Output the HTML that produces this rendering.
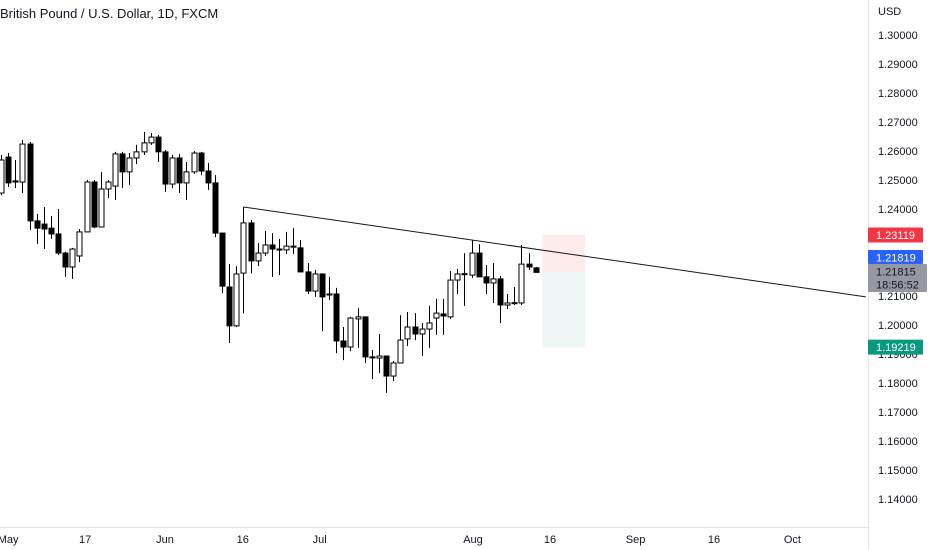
<!DOCTYPE html>
<html><head><meta charset="utf-8"><style>
html,body{margin:0;padding:0;background:#fff;}
svg{display:block;font-family:"Liberation Sans",sans-serif;}
</style></head><body>
<svg id="chart" width="932" height="550" viewBox="0 0 932 550" xmlns="http://www.w3.org/2000/svg">
<rect x="0" y="0" width="932" height="550" fill="#ffffff"/>
<g id="marks"></g>
<line x1="868.5" y1="0" x2="868.5" y2="550" stroke="#e0e3eb"/>
<line x1="0" y1="527.5" x2="868" y2="527.5" stroke="#e0e3eb"/>
<g id="yaxis"></g>
<g id="xaxis"></g>
<text x="0" y="18" font-size="13" fill="#131722">British Pound / U.S. Dollar, 1D, FXCM</text>
<text x="878" y="15" font-size="11" fill="#131722">USD</text>
</svg>
<script>
const opens=[1.2455,1.2579,1.2497,1.2493,1.2624,1.2359,1.2348,1.2334,1.2314,1.2248,1.2200,1.2238,1.2321,1.2493,1.2338,1.2469,1.2479,1.2590,1.2528,1.2576,1.2597,1.2628,1.2648,1.2597,1.2486,1.2576,1.2490,1.2528,1.2593,1.2531,1.2490,1.2317,1.2131,1.1997,1.2179,1.2352,1.2221,1.2248,1.2276,1.2262,1.2259,1.2272,1.2266,1.2183,1.2117,1.2176,1.2107,1.2107,1.1945,1.1924,1.2021,1.2028,1.1890,1.1886,1.1893,1.1824,1.1869,1.1952,1.1993,1.1969,1.1986,1.2024,1.2038,1.2028,1.2155,1.2176,1.2172,1.2248,1.2166,1.2145,1.2159,1.2069,1.2076,1.2076,1.2210,1.2197];
const highs=[1.2586,1.2593,1.2569,1.2638,1.2631,1.2383,1.2407,1.2376,1.2400,1.2252,1.2266,1.2331,1.2500,1.2500,1.2528,1.2500,1.2597,1.2597,1.2593,1.2621,1.2666,1.2662,1.2655,1.2603,1.2586,1.2590,1.2562,1.2600,1.2597,1.2559,1.2517,1.2317,1.2210,1.2203,1.2407,1.2362,1.2283,1.2324,1.2317,1.2297,1.2321,1.2334,1.2293,1.2214,1.2190,1.2176,1.2166,1.2128,1.1993,1.2028,1.2059,1.2028,1.1914,1.1969,1.1893,1.1876,1.2034,1.2045,1.2041,1.2007,1.2066,1.2090,1.2090,1.2186,1.2193,1.2248,1.2293,1.2279,1.2207,1.2214,1.2169,1.2107,1.2131,1.2276,1.2248,1.2200];
const lows=[1.2448,1.2476,1.2472,1.2455,1.2328,1.2279,1.2262,1.2297,1.2241,1.2166,1.2159,1.2217,1.2321,1.2334,1.2338,1.2438,1.2431,1.2472,1.2483,1.2555,1.2586,1.2621,1.2562,1.2459,1.2472,1.2455,1.2431,1.2521,1.2517,1.2466,1.2303,1.2110,1.1938,1.1993,1.2041,1.2179,1.2203,1.2238,1.2166,1.2172,1.2245,1.2245,1.2183,1.2107,1.2097,1.1979,1.2086,1.1903,1.1879,1.1910,1.1921,1.1869,1.1814,1.1834,1.1766,1.1807,1.1869,1.1928,1.1948,1.1893,1.1921,1.1966,1.1966,1.2021,1.2107,1.2066,1.2162,1.2166,1.2107,1.2076,1.2007,1.2055,1.2069,1.2069,1.2190,1.2183];
const closes=[1.2569,1.2490,1.2493,1.2624,1.2359,1.2334,1.2331,1.2314,1.2248,1.2200,1.2262,1.2321,1.2493,1.2338,1.2469,1.2493,1.2590,1.2528,1.2576,1.2597,1.2628,1.2648,1.2597,1.2486,1.2576,1.2490,1.2528,1.2593,1.2531,1.2490,1.2317,1.2134,1.1997,1.2176,1.2352,1.2221,1.2248,1.2276,1.2262,1.2261,1.2272,1.2269,1.2183,1.2117,1.2176,1.2097,1.2106,1.1945,1.1924,1.2024,1.2028,1.1890,1.1889,1.1893,1.1824,1.1869,1.1948,1.1993,1.1969,1.1986,1.2007,1.2041,1.2031,1.2155,1.2176,1.2177,1.2248,1.2166,1.2145,1.2159,1.2069,1.2076,1.2077,1.2210,1.2200,1.21815];
const priceTicks=[1.30,1.29,1.28,1.27,1.26,1.25,1.24,1.23,1.22,1.21,1.20,1.19,1.18,1.17,1.16,1.15,1.14];
const timeLabels=["May","17","Jun","16","Jul","Aug","16","Sep","16","Oct"];
const timeIdx=[1,11.8,23,33.9,44.7,66.2,77,89,100,111];
const trendIdx=[34,121.3];
const trendPrice=[1.2407,1.2097];
const targetPrice=1.23119, entryPrice=1.21819, stopPrice=1.19219, lastPrice=1.21815;
const boxIdx=[76,82];

const NS="http://www.w3.org/2000/svg";
function yS(p){return 35+(1.30-p)*2900;}
function xS(i){return 1+i*7.13;}
function mk(tag,attrs,parent){const e=document.createElementNS(NS,tag);for(const k in attrs)e.setAttribute(k,attrs[k]);parent.appendChild(e);return e;}
const marks=document.getElementById('marks');
// position box
const rb=mk('rect',{x:xS(boxIdx[0])-0.5,y:yS(targetPrice),width:xS(boxIdx[1])-xS(boxIdx[0]),height:yS(entryPrice)-yS(targetPrice),fill:'rgba(242,54,69,0.1)'},marks);


const gb=mk('rect',{x:xS(boxIdx[0])-0.5,y:yS(entryPrice),width:xS(boxIdx[1])-xS(boxIdx[0]),height:yS(stopPrice)-yS(entryPrice),fill:'rgba(8,153,129,0.08)'},marks);


// candles
for(let i=0;i<opens.length;i++){
  const x=Math.round(xS(i))+0.5;
  const g=mk('g',{},marks);
  
  
  mk('line',{x1:x,x2:x,y1:yS(highs[i]),y2:yS(lows[i]),stroke:'#000',"stroke-width":1},g);
  const up=closes[i]>=opens[i];
  const top=yS(Math.max(opens[i],closes[i])), bot=yS(Math.min(opens[i],closes[i]));
  mk('rect',{x:x-2.5,y:top,width:5,height:Math.max(1,bot-top),fill:up?'#fff':'#000',stroke:'#000',"stroke-width":1},g);
}
// trendline
const tl=mk('line',{x1:xS(trendIdx[0]),y1:yS(trendPrice[0]),x2:xS(trendIdx[1]),y2:yS(trendPrice[1]),stroke:'#131722',"stroke-width":1},marks);


// price axis
const ya=document.getElementById('yaxis');
priceTicks.forEach(p=>{
  const t=mk('text',{x:878,y:yS(p)+4,"font-size":11,fill:'#131722'},ya);
  
  
  t.textContent=p.toFixed(5);
});
function tag(y,h,w,bg,fg,lines,name){
  const g=mk('g',{},ya);
  
  
  mk('rect',{x:868,y:y,width:w,height:h,fill:bg,rx:1},g);
  lines.forEach((s,k)=>{const t=mk('text',{x:876,y:y+11.5+k*13,"font-size":11,fill:fg},g);t.textContent=s;});
}
tag(yS(targetPrice)-7,15,55,'#f23645','#fff',[targetPrice.toFixed(5)],'target-price-label');
tag(250,14,55,'#2962ff','#fff',[entryPrice.toFixed(5)],'entry-price-label');
tag(264,28,59,'#9598a1','#131722',[lastPrice.toFixed(5),'18:56:52'],'last-price-countdown-label');
tag(yS(stopPrice)-8,15,55,'#089981','#fff',[stopPrice.toFixed(5)],'stop-price-label');
// time axis
const xa=document.getElementById('xaxis');
timeLabels.forEach((s,k)=>{
  const t=mk('text',{x:xS(timeIdx[k]),y:543,"font-size":11,fill:'#131722',"text-anchor":'middle'},xa);
  
  
  t.textContent=s;
});
</script>
</body></html>
